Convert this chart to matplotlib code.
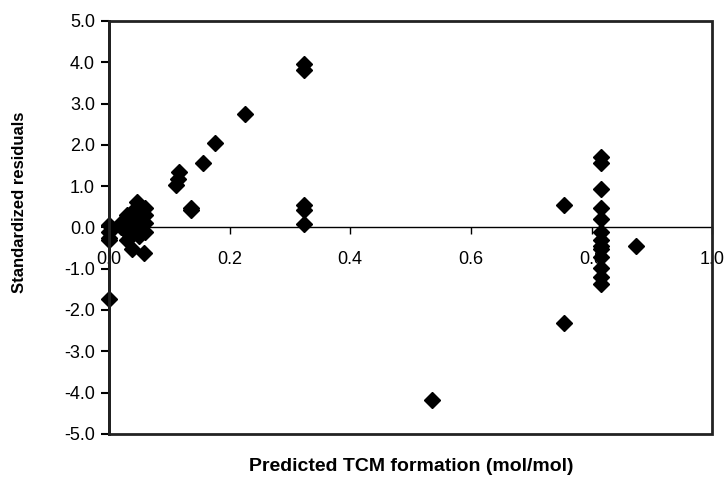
# Standardized residuals vs predicted TCM formation

import numpy as np
import matplotlib.pyplot as plt
from matplotlib.patches import Rectangle

plt.rcParams['font.family'] = ['Liberation Sans', 'DejaVu Sans']

# predicted TCM formation (mol/mol) and standardized residuals
predicted = [0.0, 0.0, 0.0, 0.0, 0.0,
             0.02, 0.02, 0.025, 0.025,
             0.03, 0.03, 0.03, 0.03, 0.03,
             0.04, 0.04, 0.04, 0.04, 0.039,
             0.047, 0.05, 0.05, 0.05, 0.05,
             0.06, 0.06, 0.06, 0.06, 0.059,
             0.111, 0.115, 0.117, 0.136, 0.136, 0.156, 0.176, 0.226,
             0.324, 0.324, 0.324, 0.324, 0.324,
             0.535, 0.755, 0.755,
             0.815, 0.815, 0.815, 0.815, 0.815, 0.815, 0.815,
             0.815, 0.815, 0.815, 0.815, 0.815, 0.815,
             0.874]
residuals = [0.05, -0.1, -0.25, -0.3, -1.73,
             0.1, 0.0, 0.15, -0.05,
             0.2, 0.0, -0.1, 0.3, -0.3,
             0.3, 0.1, -0.1, 0.4, -0.53,
             0.62, 0.5, 0.2, 0.0, -0.2,
             0.47, 0.3, 0.1, -0.1, -0.62,
             1.03, 1.17, 1.35, 0.46, 0.43, 1.57, 2.05, 2.75,
             3.95, 3.81, 0.54, 0.41, 0.08,
             -4.18, 0.55, -2.31,
             1.70, 1.57, 0.93, 0.46, 0.21, -0.10, -0.30,
             -0.45, -0.53, -0.72, -0.99, -1.19, -1.37,
             -0.45]

x_ticks = np.arange(0.0, 1.01, 0.2)
y_ticks = np.arange(-5.0, 5.01, 1.0)

fig = plt.figure(figsize=(7.26, 4.88), dpi=100)
ax = fig.add_axes([0.150, 0.111, 0.831, 0.846])

ax.plot(predicted, residuals, linestyle='none', marker='D', markersize=8.5,
        color='black', clip_on=False, zorder=3)

ax.set_xlim(0, 1.0)
ax.set_ylim(-5.0, 5.0)

# x axis runs through zero, outer frame drawn as a box
ax.spines['bottom'].set_position(('data', 0))
ax.spines['bottom'].set_linewidth(1.0)
for s in ['top', 'right']:
    ax.spines[s].set_visible(False)
ax.spines['left'].set_linewidth(2.0)
ax.add_patch(Rectangle((0, 0), 1, 1, transform=ax.transAxes, fill=False,
                       edgecolor='#222222', linewidth=2.0, clip_on=False, zorder=4))

ax.set_xticks(x_ticks)
ax.set_xticklabels([f'{v:.1f}' for v in x_ticks])
ax.set_yticks(y_ticks)
ax.set_yticklabels([f'{v:.1f}' for v in y_ticks])
ax.tick_params(axis='x', direction='out', length=5, width=1, pad=12, labelsize=13)
ax.tick_params(axis='y', direction='out', length=6, width=1.5, pad=4, labelsize=13)

ax.set_ylabel('Standardized residuals', fontsize=12, fontweight='bold')
ax.yaxis.set_label_coords(-0.135, 0.56)
fig.text(0.566, 0.045, 'Predicted TCM formation (mol/mol)', fontsize=14,
         fontweight='bold', ha='center', va='center')

fig.savefig('out.png', dpi=100)
